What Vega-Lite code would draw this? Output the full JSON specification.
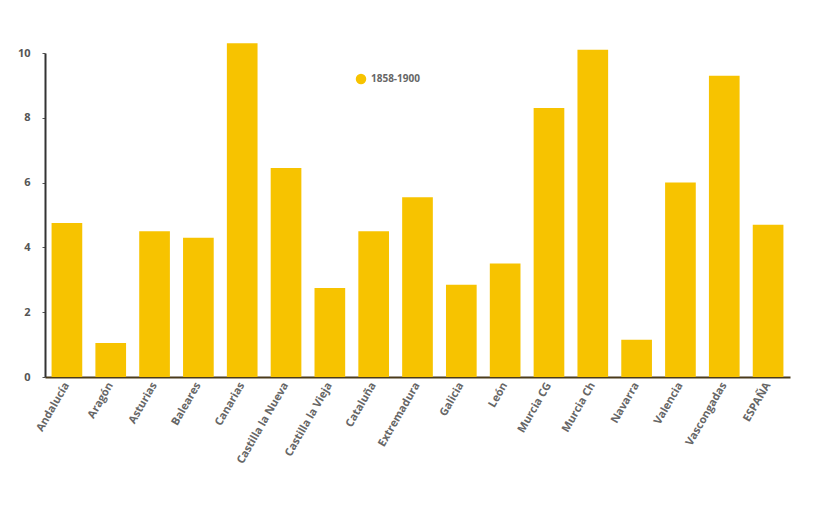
{
  "$schema": "https://vega.github.io/schema/vega-lite/v6.json",
  "autosize": "none",
  "width": 745,
  "height": 324,
  "padding": {"left": 45, "top": 53, "right": 41, "bottom": 131},
  "background": "white",
  "data": {"values": [
    {"region": "Andalucía", "valor": 4.75, "serie": "1858-1900"},
    {"region": "Aragón", "valor": 1.05, "serie": "1858-1900"},
    {"region": "Asturias", "valor": 4.5, "serie": "1858-1900"},
    {"region": "Baleares", "valor": 4.3, "serie": "1858-1900"},
    {"region": "Canarias", "valor": 10.3, "serie": "1858-1900"},
    {"region": "Castilla la Nueva", "valor": 6.45, "serie": "1858-1900"},
    {"region": "Castilla la Vieja", "valor": 2.75, "serie": "1858-1900"},
    {"region": "Cataluña", "valor": 4.5, "serie": "1858-1900"},
    {"region": "Extremadura", "valor": 5.55, "serie": "1858-1900"},
    {"region": "Galicia", "valor": 2.85, "serie": "1858-1900"},
    {"region": "León", "valor": 3.5, "serie": "1858-1900"},
    {"region": "Murcia CG", "valor": 8.3, "serie": "1858-1900"},
    {"region": "Murcia Ch", "valor": 10.1, "serie": "1858-1900"},
    {"region": "Navarra", "valor": 1.15, "serie": "1858-1900"},
    {"region": "Valencia", "valor": 6.0, "serie": "1858-1900"},
    {"region": "Vascongadas", "valor": 9.3, "serie": "1858-1900"},
    {"region": "ESPAÑA", "valor": 4.7, "serie": "1858-1900"}
  ]},
  "mark": {"type": "bar", "clip": false},
  "encoding": {
    "x": {
      "field": "region", "type": "nominal", "sort": null,
      "scale": {"paddingInner": 0.3, "paddingOuter": 0.15},
      "axis": {
        "title": null, "labelAngle": -60, "labelAlign": "right", "labelBaseline": "middle",
        "labelFont": "Open Sans", "labelFontSize": 11, "labelFontWeight": "bold", "labelColor": "#666666",
        "ticks": false, "domainColor": "#4a3a1a", "domainWidth": 2, "labelPadding": 6
      }
    },
    "y": {
      "field": "valor", "type": "quantitative",
      "scale": {"domain": [0, 10], "nice": false},
      "axis": {
        "title": null, "values": [0, 2, 4, 6, 8, 10], "grid": false,
        "labelFont": "Open Sans", "labelFontSize": 11, "labelFontWeight": "bold", "labelColor": "#555555",
        "domainColor": "#333333", "domainWidth": 2, "tickColor": "#555555", "tickSize": 3, "labelPadding": 12
      }
    },
    "color": {
      "field": "serie", "type": "nominal",
      "scale": {"range": ["#F7C300"]},
      "legend": {
        "title": null, "orient": "none", "legendX": 310, "legendY": 20,
        "symbolType": "circle", "symbolSize": 110, "symbolFillColor": "#E2DE2A",
        "labelFont": "Open Sans", "labelFontSize": 10, "labelFontWeight": "bold", "labelColor": "#666666"
      }
    }
  },
  "config": {"view": {"stroke": null}}
}
